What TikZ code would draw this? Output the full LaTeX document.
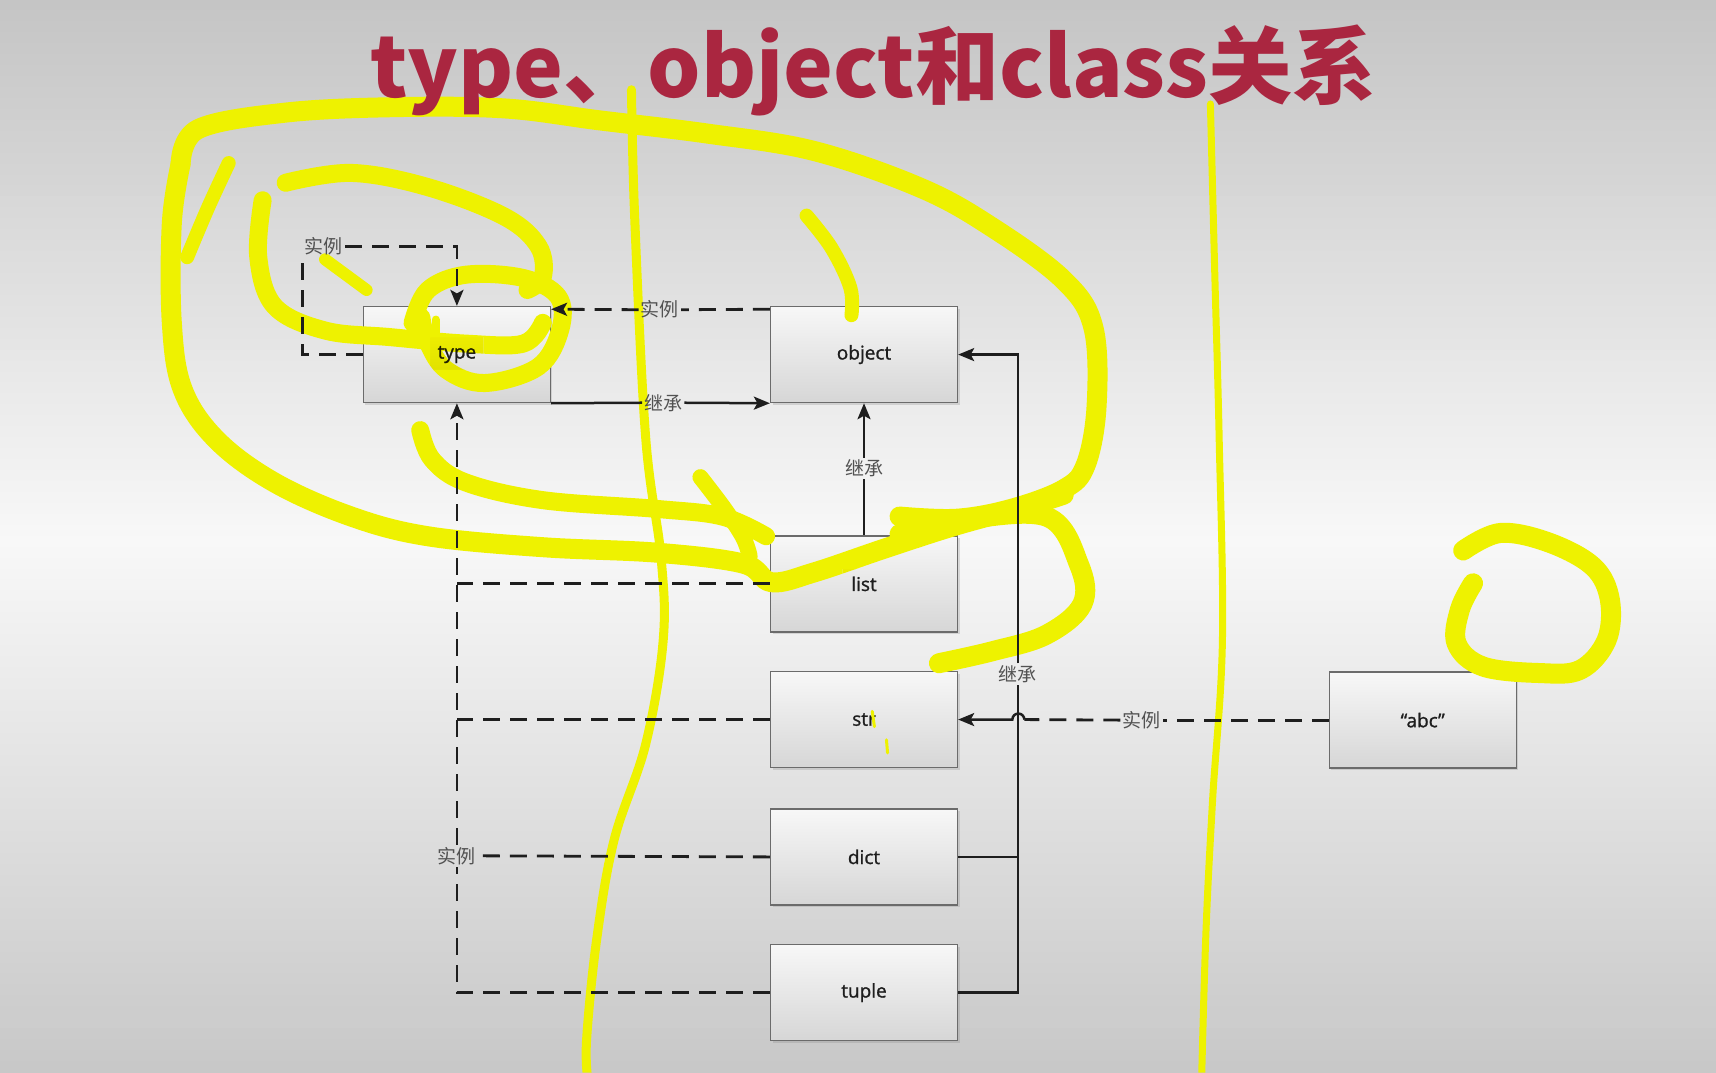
\documentclass[tikz,border=0pt]{standalone}
\usepackage{fontspec}
\setmainfont{Open Sans}
\newfontfamily\boxfont{Open Sans}[FakeBold=1.2]
\newfontfamily\cjk{Noto Sans CJK SC}
\usetikzlibrary{arrows.meta,calc,shadows}
\definecolor{titlered}{RGB}{170,38,64}
\definecolor{hl}{RGB}{238,242,0}
\definecolor{ink}{RGB}{30,30,30}
\tikzset{
  box/.style={draw=black!58, line width=1.3pt, top color=black!3, bottom color=black!16,
    minimum width=187pt, minimum height=96pt, inner sep=0pt,
    font=\boxfont\fontsize{19}{22}\selectfont, text=ink,
    drop shadow={opacity=0.25, shadow xshift=2pt, shadow yshift=-2pt}},
  elab/.style={font=\cjk\fontsize{19}{20}\selectfont, text=black!68, inner sep=2pt},
  arr/.style={-{Stealth[length=16pt,width=13pt,inset=3.5pt]}},
  dashline/.style={line width=2.8pt, draw=ink, dash pattern=on 17pt off 10pt},
  solidline/.style={line width=2.5pt, draw=ink},
  hlstroke/.style={draw=hl, line cap=round, line join=round, line width=#1},
}
\newcommand{\hlpaths}{%
\draw[hlstroke=20pt] plot[smooth, tension=0.6] coordinates {(165,150) (181,118) (260,103) (356,98) (460,99) (548,110) (646,122) (744,138) (842,172) (907,208) (972,256) (999,299) (1002,371) (992,425) (972,447) (924,465) (874,474) (822,472)};
\draw[hlstroke=20pt] plot[smooth, tension=0.6] coordinates {(822,488) (874,476) (956,472) (986,516) (989,552) (956,580) (907,595) (858,606)};
\draw[hlstroke=20pt] plot[smooth, tension=0.6] coordinates {(165,150) (157,204) (157,295) (167,356) (198,402) (251,441) (321,472) (391,490) (496,500) (600,505) (679,515) (705,532) (744,523) (809,501) (874,480) (940,462) (972,452)};
\draw[hlstroke=18pt] plot[smooth, tension=0.6] coordinates {(384,393) (395,420) (426,441) (496,457) (600,465) (660,472) (700,490)};
\draw[hlstroke=16pt] plot[smooth, tension=0.6] coordinates {(640,436) (662,465) (679,491) (685,508)};
\draw[hlstroke=14pt] plot[smooth, tension=0.6] coordinates {(737,197) (760,227) (777,263) (778,288)};
\draw[hlstroke=18pt] plot[smooth, tension=0.6] coordinates {(261,167) (321,158) (391,171) (461,198) (492,225) (496,253) (482,265)};
\draw[hlstroke=18pt] plot[smooth, tension=0.6] coordinates {(377,295) (391,265) (426,251) (478,254) (510,271) (512,301) (492,335) (443,350) (408,338) (391,313) (385,290)};
\draw[hlstroke=18pt] plot[smooth, tension=0.6] coordinates {(240,183) (236,235) (251,280) (297,302) (356,308) (426,314) (478,314) (496,295)};
\draw[hlstroke=12pt] (297,237) -- (335,265);
\draw[hlstroke=8pt] (398,292) -- (398,304);
\draw[hlstroke=14pt] plot[smooth, tension=0.6] coordinates {(209,149) (190,190) (171,235)};
\draw[hlstroke=9pt] plot[smooth, tension=0.6] coordinates {(577,82) (580,200) (590,400) (604,509) (606,585) (590,680) (561,768) (545,860) (536,950) (537,985)};
\draw[hlstroke=7pt] plot[smooth, tension=0.6] coordinates {(1106,95) (1110,250) (1114,400) (1117,585) (1108,731) (1102,850) (1098,985)};
\draw[hlstroke=20pt] plot[smooth, tension=0.6] coordinates {(1337,503) (1371,487) (1416,496) (1456,518) (1471,548) (1468,585) (1444,612) (1407,615) (1355,609) (1331,588) (1334,557) (1346,533)};
\draw[hlstroke=3pt] (797,650) -- (799,664);
\draw[hlstroke=3pt] (810,676) -- (811,688);
}
\begin{document}
\begin{tikzpicture}[x=1.0944pt,y=-1.0944pt]
\useasboundingbox (0,0) rectangle (1568,980);
% background gradient (grey - white - grey)
\foreach \i in {0,...,97}{
  \pgfmathsetmacro\yc{\i*10+5}
  \pgfmathsetmacro\vv{ifthenelse(\yc<490, 196+0.10612*\yc, 248-0.09796*(\yc-490))}
  \pgfmathsetmacro\nn{100*(1-\vv/255)}
  \fill[black!\nn] (0,\i*10-0.5) rectangle (1568,\i*10+10.5);
}

% boxes
\node[box] (type)   at (417.5,324) {type};
\node[box] (object) at (789.5,324) {object};
\node[box] (list)   at (789.5,533.5) {list};
\node[box] (str)    at (789.5,657.5) {str};
\node[box] (dict)   at (789.5,783) {dict};
\node[box] (tuple)  at (789.5,907) {tuple};
\node[box] (abc)    at (1300,658) {“abc”};

% yellow pen annotations: opaque, but darkening over the box texts
\begin{scope}[even odd rule]
\clip (0,0) rectangle (1568,980) (393,308) rectangle (442,338) (770,520) rectangle (808,548);
\hlpaths
\end{scope}
\begin{scope}[blend mode=darken]
\clip (393,308) rectangle (442,338) (770,520) rectangle (808,548);
\hlpaths
\end{scope}

% connector labels
\node[elab] (l1) at (296,225) {实例};
\node[elab] (l2) at (603,283) {实例};
\node[elab] (l3) at (606,368) {继承};
\node[elab] (l4) at (789.5,428) {继承};
\node[elab] (l5) at (417.5,782) {实例};
\node[elab] (l6) at (930,616) {继承};
\node[elab] (l7) at (1043,658) {实例};

% self loop of type
\draw[dashline] (type.west) -- (type.west -| l1.south west) -- (l1.south west);
\draw[dashline, arr] (l1.east) -| (type.north);

% object -> type (instance)
\draw[dashline] ($(object.north west)+(0,3)$) -- (l2.east);
\draw[dashline, arr] (l2.west) -- ($(type.north east)+(0,3)$);
% type -> object (inherit)
\draw[solidline] (type.south east) -- (l3.west);
\draw[solidline, arr] (l3.east) -- (object.south west);
% list -> object
\draw[solidline] (list.north) -- (l4.south);
\draw[solidline, arr] (l4.north) -- (object.south);

% instances of type
\draw[dashline] (tuple.west) -| (l5.south);
\draw[dashline, arr] (l5.north) -- (type.south);
\draw[dashline] (list.west) -- (list.west -| type.south);
\draw[dashline] (str.west) -- (str.west -| type.south);
\draw[dashline] (dict.west) -- (l5.east);

% inheritance from object (right bus)
\draw[solidline] (tuple.east) -| (l6.south);
\draw[solidline, arr] (l6.north) |- (object.east);
\draw[solidline] (dict.east) -- (dict.east -| l6.south);

% "abc" -> str
\coordinate (hop) at (str.east -| l6.south);
\draw[dashline] (abc.west) -- (l7.east);
\draw[dashline] (l7.west) -- ($(hop)+(6,0)$);
\draw[solidline, arr] ($(hop)+(6,0)$) arc[start angle=0, end angle=180, radius=6pt] -- (str.east);

% title
\node[font=\cjk\bfseries\fontsize{84}{84}\selectfont, text=titlered] (title) at (798,64) {type、object和class关系};
\end{tikzpicture}
\end{document}
